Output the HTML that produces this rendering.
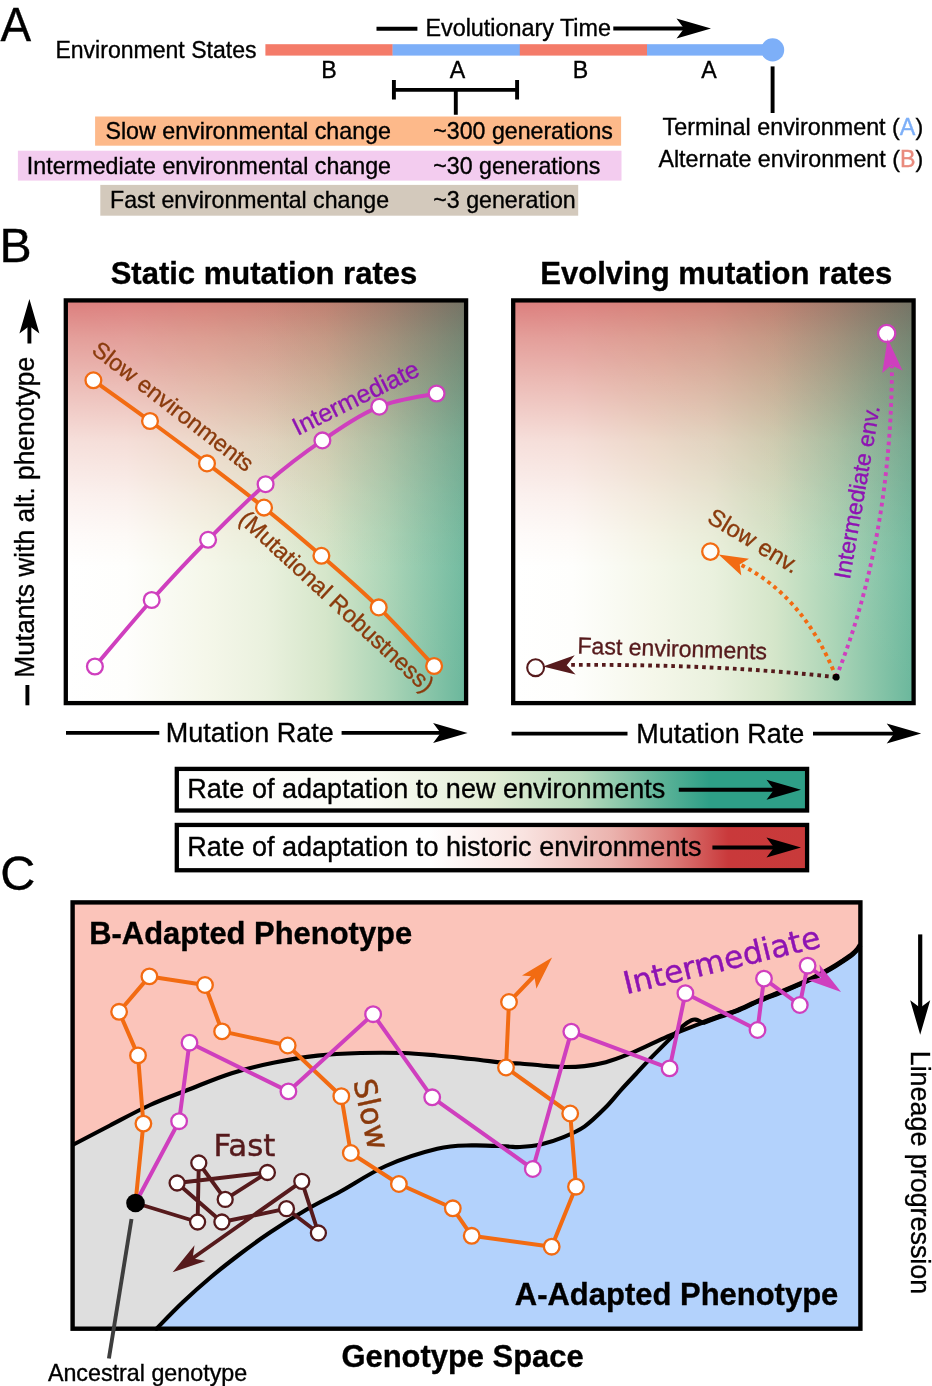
<!DOCTYPE html>
<html lang="en"><head><meta charset="utf-8"><title>Mutation rate evolution figure</title>
<style>
html,body{margin:0;padding:0;background:#fff;}
body{width:932px;height:1386px;overflow:hidden;}
svg{display:block;}
text{font-family:"Liberation Sans",Arial,Helvetica,sans-serif;fill:#000;stroke:#000;stroke-width:0.35;}
.tb{fill:#8A3A0C;stroke:#8A3A0C;}
.tp{fill:#8E13B3;stroke:#8E13B3;}
.tm{fill:#561A1C;stroke:#561A1C;}
.dj{font-family:"DejaVu Sans","Liberation Sans",sans-serif;stroke-width:0.45;}
.b{font-weight:700;}
.co{fill:#fff;stroke:#F26B12;stroke-width:2.3;}
.cm{fill:#fff;stroke:#CF3FBE;stroke-width:2.3;}
.cf{fill:#fff;stroke:#561A1C;stroke-width:2.3;}
.lo{fill:none;stroke:#F26B12;stroke-width:4;stroke-linejoin:round;stroke-linecap:round;}
.lm{fill:none;stroke:#CF3FBE;stroke-width:4;stroke-linejoin:round;stroke-linecap:round;}
.lf{fill:none;stroke:#561A1C;stroke-width:3.9;stroke-linejoin:round;stroke-linecap:round;}
.k{stroke:#000;stroke-width:3.9;fill:none;}
.dot{fill:none;stroke-width:3.9;stroke-dasharray:3.7 4;}
</style></head><body>
<svg width="932" height="1386" viewBox="0 0 932 1386">
<defs>
<linearGradient id="gG" x1="0" y1="0" x2="1" y2="0">
<stop offset="0" stop-color="#FFFFFF"/><stop offset="0.15" stop-color="#FEFEFC"/><stop offset="0.35" stop-color="#F5F7EA"/>
<stop offset="0.5" stop-color="#EAF1DE"/><stop offset="0.65" stop-color="#D5E6CA"/><stop offset="0.8" stop-color="#ACD5B7"/><stop offset="1" stop-color="#6AB79C"/>
</linearGradient>
<linearGradient id="gR" x1="0" y1="0" x2="0" y2="1">
<stop offset="0" stop-color="#DC7E7D"/><stop offset="0.09" stop-color="#E49E9A"/><stop offset="0.2" stop-color="#ECBBB6"/>
<stop offset="0.35" stop-color="#F6DFDB"/><stop offset="0.48" stop-color="#FBF0EE"/><stop offset="0.58" stop-color="#FEFAF9"/><stop offset="0.66" stop-color="#FFFFFF"/><stop offset="1" stop-color="#FFFFFF"/>
</linearGradient>
<linearGradient id="gW" x1="0.5" y1="0.5" x2="1" y2="0">
<stop offset="0" stop-color="#FFFAEB" stop-opacity="0"/><stop offset="1" stop-color="#FFFAEB" stop-opacity="0.15"/>
</linearGradient>
<linearGradient id="lG" x1="0" y1="0" x2="1" y2="0">
<stop offset="0" stop-color="#FFFFFF"/><stop offset="0.3" stop-color="#FBFCF6"/><stop offset="0.5" stop-color="#E2EDD5"/>
<stop offset="0.64" stop-color="#B9DBBD"/><stop offset="0.77" stop-color="#5DB398"/><stop offset="0.845" stop-color="#2E9F87"/><stop offset="1" stop-color="#2E9F87"/>
</linearGradient>
<linearGradient id="lR" x1="0" y1="0" x2="1" y2="0">
<stop offset="0" stop-color="#FFFFFF"/><stop offset="0.4" stop-color="#FFFFFF"/><stop offset="0.55" stop-color="#F9E3E0"/>
<stop offset="0.69" stop-color="#EBB3AE"/><stop offset="0.785" stop-color="#DC7C79"/><stop offset="0.875" stop-color="#C9393B"/><stop offset="1" stop-color="#C83A3A"/>
</linearGradient>
</defs>
<rect width="932" height="1386" fill="#fff"/>

<!-- Panel A -->
<text x="0.6" y="41.1" font-size="48" textLength="30.6" lengthAdjust="spacingAndGlyphs">A</text>
<text x="55.4" y="58" font-size="23.3" textLength="201.1" lengthAdjust="spacingAndGlyphs">Environment States</text>
<rect x="265.4" y="44.2" width="127.4" height="11.4" fill="#F47B69"/>
<rect x="392.6" y="44.2" width="127.4" height="11.4" fill="#7DAFF8"/>
<rect x="519.8" y="44.2" width="127.4" height="11.4" fill="#F47B69"/>
<rect x="647" y="44.2" width="126" height="11.4" fill="#7DAFF8"/>
<circle cx="772.6" cy="49.9" r="11.6" fill="#7DAFF8"/>
<path class="k" d="M376.5,28.8H417.4"/>
<text x="425.4" y="36" font-size="23" textLength="185.6" lengthAdjust="spacingAndGlyphs">Evolutionary Time</text>
<path class="k" d="M613.3,28.5H690"/>
<polygon fill="#000" points="711.0,28.5 676.5,18.5 684.0,28.5 676.5,38.5"/>
<text x="328.9" y="77.7" font-size="23.2" text-anchor="middle">B</text>
<text x="457.6" y="77.7" font-size="23.2" text-anchor="middle">A</text>
<text x="580.5" y="77.7" font-size="23.2" text-anchor="middle">B</text>
<text x="709" y="77.7" font-size="23.2" text-anchor="middle">A</text>
<path class="k" d="M393.9,80V99.6M517.1,80V99.6M393.9,89.9H517.1M455.8,89.9V114.8"/>
<path class="k" d="M772.6,66.4V113"/>
<rect x="95.1" y="116.5" width="526" height="29.2" fill="#FDB98A"/>
<rect x="17.9" y="150.7" width="603.6" height="29.9" fill="#F3CCEF"/>
<rect x="100.3" y="184.9" width="477.9" height="30.8" fill="#D3C9BC"/>
<text x="105.4" y="138.5" font-size="23.2" textLength="285.6" lengthAdjust="spacingAndGlyphs">Slow environmental change</text>
<text x="26.8" y="173.8" font-size="23.2" textLength="364.2" lengthAdjust="spacingAndGlyphs">Intermediate environmental change</text>
<text x="110" y="207.5" font-size="23.2" textLength="279" lengthAdjust="spacingAndGlyphs">Fast environmental change</text>
<text x="433.3" y="138.5" font-size="23.2" textLength="179.6" lengthAdjust="spacingAndGlyphs">~300 generations</text>
<text x="433.3" y="173.8" font-size="23.2">~30 generations</text>
<text x="433.3" y="207.5" font-size="23.2">~3 generation</text>
<text x="662.6" y="134.6" font-size="23.2" textLength="260.6" lengthAdjust="spacingAndGlyphs">Terminal environment (<tspan fill="#7DAFF8" stroke="#7DAFF8">A</tspan>)</text>
<text x="658.4" y="166.8" font-size="23.2" textLength="264.8" lengthAdjust="spacingAndGlyphs">Alternate environment (<tspan fill="#E98B7E" stroke="#E98B7E">B</tspan>)</text>
<!-- Panel B -->
<text x="-0.6" y="262.3" font-size="48.2">B</text>
<text class="b" x="110.7" y="283.8" font-size="31" textLength="306.5" lengthAdjust="spacingAndGlyphs">Static mutation rates</text>
<text class="b" x="540.2" y="283.8" font-size="31" textLength="352.2" lengthAdjust="spacingAndGlyphs">Evolving mutation rates</text>
<rect x="65.8" y="300.4" width="400.3" height="402.7" fill="url(#gG)"/>
<rect x="65.8" y="300.4" width="400.3" height="402.7" fill="url(#gR)" style="mix-blend-mode:multiply"/>
<rect x="65.8" y="300.4" width="400.3" height="402.7" fill="url(#gW)"/>
<rect x="65.8" y="300.4" width="400.3" height="402.7" fill="none" stroke="#000" stroke-width="4.3"/>
<rect x="513.2" y="300.4" width="400.4" height="402.7" fill="url(#gG)"/>
<rect x="513.2" y="300.4" width="400.4" height="402.7" fill="url(#gR)" style="mix-blend-mode:multiply"/>
<rect x="513.2" y="300.4" width="400.4" height="402.7" fill="url(#gW)"/>
<rect x="513.2" y="300.4" width="400.4" height="402.7" fill="none" stroke="#000" stroke-width="4.3"/>
<path class="k" d="M27.4,705.3V685"/>
<text transform="translate(34.4,677.8) rotate(-90)" font-size="27" textLength="321" lengthAdjust="spacingAndGlyphs">Mutants with alt. phenotype</text>
<path class="k" d="M29.4,343.5V322"/>
<polygon fill="#000" points="29.4,299.0 19.4,333.5 29.4,326.0 39.4,333.5"/>
<path class="k" d="M66,732.9H159.3M341.6,732.9H446"/>
<polygon fill="#000" points="467.6,732.9 433.1,722.9 440.6,732.9 433.1,742.9"/>
<text x="165.8" y="742" font-size="27" textLength="167.9" lengthAdjust="spacingAndGlyphs">Mutation Rate</text>
<path class="k" d="M511.6,733.6H627.5M813,733.6H900"/>
<polygon fill="#000" points="921.2,733.6 886.7,723.6 894.2,733.6 886.7,743.6"/>
<text x="636.3" y="742.6" font-size="27" textLength="168" lengthAdjust="spacingAndGlyphs">Mutation Rate</text>
<path class="lo" d="M93.4,380.3 C102.8,387.1 131.1,407.1 150.0,421.0 C168.9,434.9 188.0,449.0 207.0,463.4 C226.0,477.8 244.9,492.2 264.0,507.6 C283.1,523.0 302.3,539.2 321.4,555.8 C340.5,572.4 359.9,589.0 378.7,607.4 C397.5,625.8 424.9,656.2 434.1,666.0"/>
<path class="lm" d="M94.9,666.5 C104.4,655.4 132.8,621.1 151.7,600.0 C170.6,578.9 189.1,559.1 208.1,539.8 C227.1,520.5 246.6,500.8 265.6,484.2 C284.7,467.6 303.4,453.3 322.4,440.4 C341.3,427.5 360.3,414.5 379.3,406.7 C398.3,398.9 427.1,395.7 436.6,393.5"/>
<circle class="co" cx="93.4" cy="380.3" r="7.9"/>
<circle class="co" cx="150.0" cy="421.0" r="7.9"/>
<circle class="co" cx="207.0" cy="463.4" r="7.9"/>
<circle class="co" cx="264.0" cy="507.6" r="7.9"/>
<circle class="co" cx="321.4" cy="555.8" r="7.9"/>
<circle class="co" cx="378.7" cy="607.4" r="7.9"/>
<circle class="co" cx="434.1" cy="666.0" r="7.9"/>
<circle class="cm" cx="94.9" cy="666.5" r="7.9"/>
<circle class="cm" cx="151.7" cy="600.0" r="7.9"/>
<circle class="cm" cx="208.1" cy="539.8" r="7.9"/>
<circle class="cm" cx="265.6" cy="484.2" r="7.9"/>
<circle class="cm" cx="322.4" cy="440.4" r="7.9"/>
<circle class="cm" cx="379.3" cy="406.7" r="7.9"/>
<circle class="cm" cx="436.6" cy="393.5" r="7.9"/>
<text transform="translate(90.5,352.5) rotate(37.7)" font-size="23.2" class="tb" textLength="196.6" lengthAdjust="spacingAndGlyphs">Slow environments</text>
<text transform="translate(237.5,521) rotate(42.7)" font-size="23.5" class="tb" textLength="255" lengthAdjust="spacingAndGlyphs">(Mutational Robustness)</text>
<text transform="translate(297.5,436) rotate(-26.3)" font-size="25" class="tp" textLength="138" lengthAdjust="spacingAndGlyphs">Intermediate</text>
<path class="dot" stroke="#561A1C" d="M836.2,677.2 Q720,664 568,664.9"/>
<polygon fill="#561A1C" points="543,666.6 574.7,655.3 566.7,665.2 575.6,674.5"/>
<circle cx="535.6" cy="667.7" r="8.4" fill="none" stroke="#561A1C" stroke-width="2.1"/>
<path class="dot" stroke="#F26B12" d="M836.2,677.2 Q803.8,595.9 740,564.4"/>
<polygon fill="#F26B12" points="718.6,554.6 749,558.7 739.7,564.4 741.3,575.5"/>
<circle cx="710.4" cy="551.6" r="8.2" fill="#fff" fill-opacity="0.85" stroke="#F26B12" stroke-width="2.3"/>
<path class="dot" stroke="#CF3FBE" d="M836.2,677.2 Q891,540 892,366"/>
<polygon fill="#CF3FBE" points="887.7,338.8 882.2,373 891.2,365.2 902.5,370.4"/>
<circle cx="886.7" cy="333.4" r="8.6" fill="#fff" stroke="#CF3FBE" stroke-width="2.3"/>
<polygon fill="#CF3FBE" points="887.7,338.8 886.6,345 889.4,345"/>
<circle cx="836.2" cy="677.2" r="3.4" fill="#000"/>
<text transform="translate(577.3,653.5) rotate(1.8)" font-size="23.2" class="tm" textLength="189.6" lengthAdjust="spacingAndGlyphs">Fast environments</text>
<text transform="translate(706.1,521.4) rotate(31.2)" font-size="23.9" class="tb">Slow env.</text>
<text transform="translate(849.7,580) rotate(-80.1)" font-size="23.2" class="tp" textLength="175.6" lengthAdjust="spacingAndGlyphs">Intermediate env.</text>
<rect x="176.8" y="768.9" width="630.3" height="41.6" fill="url(#lG)" stroke="#000" stroke-width="4.3"/>
<rect x="176.8" y="824.95" width="630.3" height="45.3" fill="url(#lR)" stroke="#000" stroke-width="4.3"/>
<text x="187.3" y="798.1" font-size="27" textLength="478" lengthAdjust="spacingAndGlyphs">Rate of adaptation to new environments</text>
<text x="187.3" y="855.7" font-size="27" textLength="514.2" lengthAdjust="spacingAndGlyphs">Rate of adaptation to historic environments</text>
<path class="k" d="M678.8,789.7H780M712.4,847.5H780"/>
<polygon fill="#000" points="801.0,789.7 766.5,779.7 774.0,789.7 766.5,799.7"/>
<polygon fill="#000" points="801.0,847.5 766.5,837.5 774.0,847.5 766.5,857.5"/>
<!-- Panel C -->
<text x="0.2" y="889.9" font-size="48.5">C</text>
<rect x="72.6" y="902.4" width="787.8" height="426.3" fill="#B3D2FC"/>
<path d="M156.5,1328.7 C160.9,1324.2 173.9,1310.6 183.0,1302.0 C192.1,1293.4 201.5,1285.0 211.0,1277.0 C220.5,1269.0 230.1,1261.5 240.0,1254.0 C249.9,1246.5 259.5,1239.5 270.3,1232.3 C281.1,1225.0 293.4,1217.3 305.0,1210.5 C316.6,1203.7 326.5,1199.1 340.0,1191.7 C353.5,1184.3 369.6,1173.2 385.8,1166.0 C402.0,1158.8 423.0,1152.2 437.3,1148.8 C451.6,1145.4 460.2,1145.8 471.7,1145.4 C483.1,1145.0 497.9,1146.1 506.0,1146.4 C514.0,1146.7 514.1,1147.4 520.0,1147.0 C525.9,1146.6 534.4,1145.8 541.5,1144.2 C548.6,1142.6 555.8,1140.2 562.9,1137.3 C570.0,1134.4 577.2,1131.6 584.4,1126.6 C591.5,1121.6 599.7,1113.4 605.8,1107.3 C611.9,1101.2 615.9,1095.6 620.9,1090.1 C625.9,1084.5 631.2,1079.0 635.9,1074.0 C640.5,1069.0 643.1,1066.0 648.8,1060.1 C654.5,1054.2 664.5,1044.3 670.2,1038.6 C675.9,1032.9 679.5,1028.9 683.1,1025.8 C686.7,1022.7 689.6,1021.2 691.7,1020.2 C693.8,1019.2 694.4,1019.5 695.5,1019.6 C696.6,1019.7 697.4,1020.1 698.5,1020.6 C699.6,1021.1 701.8,1022.4 702.4,1022.8 L703.0,1022.6 L691.7,1026.8 L670.2,1035.4 L648.8,1045.1 L627.3,1054.7 L605.8,1062.2 L584.4,1066.1 L562.9,1067.0 L541.5,1065.5 L520.0,1063.5 L506.0,1063.0 L471.0,1059.0 L437.0,1055.5 L403.3,1053.0 L360.4,1053.0 L317.5,1055.6 L274.6,1062.5 L231.7,1073.2 L188.8,1089.5 L150.1,1105.0 L110.0,1125.5 L72.6,1145.0 L72.6,1328.7 Z" fill="#DEDEDE"/>
<path d="M72.6,1145.0 C78.8,1141.8 97.1,1132.2 110.0,1125.5 C122.9,1118.8 137.0,1111.0 150.1,1105.0 C163.2,1099.0 175.2,1094.8 188.8,1089.5 C202.4,1084.2 217.4,1077.7 231.7,1073.2 C246.0,1068.7 260.3,1065.4 274.6,1062.5 C288.9,1059.6 303.2,1057.2 317.5,1055.6 C331.8,1054.0 346.1,1053.4 360.4,1053.0 C374.7,1052.6 390.5,1052.6 403.3,1053.0 C416.1,1053.4 425.7,1054.5 437.0,1055.5 C448.3,1056.5 459.5,1057.8 471.0,1059.0 C482.5,1060.2 497.8,1062.2 506.0,1063.0 C514.2,1063.8 514.1,1063.1 520.0,1063.5 C525.9,1063.9 534.4,1064.9 541.5,1065.5 C548.6,1066.1 555.8,1066.9 562.9,1067.0 C570.0,1067.1 577.2,1066.9 584.4,1066.1 C591.5,1065.3 598.6,1064.1 605.8,1062.2 C612.9,1060.3 620.1,1057.6 627.3,1054.7 C634.5,1051.8 641.6,1048.3 648.8,1045.1 C655.9,1041.9 663.1,1038.5 670.2,1035.4 C677.4,1032.4 686.2,1028.9 691.7,1026.8 C697.2,1024.7 698.3,1024.3 703.0,1022.6 C707.7,1020.9 714.3,1018.3 720.0,1016.3 C725.7,1014.3 730.6,1013.2 737.3,1010.5 C744.0,1007.8 751.9,1003.7 760.0,1000.3 C768.1,996.9 777.1,993.7 785.7,990.1 C794.3,986.5 804.0,982.4 811.5,978.8 C819.0,975.2 825.4,971.6 830.8,968.5 C836.2,965.4 840.1,962.7 843.7,960.3 C847.4,957.9 850.3,956.0 852.7,954.0 C855.1,952.0 856.8,950.0 858.0,948.5 C859.2,947.0 859.8,945.6 860.2,945.0 L860.4,902.4 L72.6,902.4 Z" fill="#FBC4BA"/>
<path d="M72.6,1145.0 C78.8,1141.8 97.1,1132.2 110.0,1125.5 C122.9,1118.8 137.0,1111.0 150.1,1105.0 C163.2,1099.0 175.2,1094.8 188.8,1089.5 C202.4,1084.2 217.4,1077.7 231.7,1073.2 C246.0,1068.7 260.3,1065.4 274.6,1062.5 C288.9,1059.6 303.2,1057.2 317.5,1055.6 C331.8,1054.0 346.1,1053.4 360.4,1053.0 C374.7,1052.6 390.5,1052.6 403.3,1053.0 C416.1,1053.4 425.7,1054.5 437.0,1055.5 C448.3,1056.5 459.5,1057.8 471.0,1059.0 C482.5,1060.2 497.8,1062.2 506.0,1063.0 C514.2,1063.8 514.1,1063.1 520.0,1063.5 C525.9,1063.9 534.4,1064.9 541.5,1065.5 C548.6,1066.1 555.8,1066.9 562.9,1067.0 C570.0,1067.1 577.2,1066.9 584.4,1066.1 C591.5,1065.3 598.6,1064.1 605.8,1062.2 C612.9,1060.3 620.1,1057.6 627.3,1054.7 C634.5,1051.8 641.6,1048.3 648.8,1045.1 C655.9,1041.9 663.1,1038.5 670.2,1035.4 C677.4,1032.4 686.2,1028.9 691.7,1026.8 C697.2,1024.7 698.3,1024.3 703.0,1022.6 C707.7,1020.9 714.3,1018.3 720.0,1016.3 C725.7,1014.3 730.6,1013.2 737.3,1010.5 C744.0,1007.8 751.9,1003.7 760.0,1000.3 C768.1,996.9 777.1,993.7 785.7,990.1 C794.3,986.5 804.0,982.4 811.5,978.8 C819.0,975.2 825.4,971.6 830.8,968.5 C836.2,965.4 840.1,962.7 843.7,960.3 C847.4,957.9 850.3,956.0 852.7,954.0 C855.1,952.0 856.8,950.0 858.0,948.5 C859.2,947.0 859.8,945.6 860.2,945.0" fill="none" stroke="#000" stroke-width="4.1"/>
<path d="M156.5,1328.7 C160.9,1324.2 173.9,1310.6 183.0,1302.0 C192.1,1293.4 201.5,1285.0 211.0,1277.0 C220.5,1269.0 230.1,1261.5 240.0,1254.0 C249.9,1246.5 259.5,1239.5 270.3,1232.3 C281.1,1225.0 293.4,1217.3 305.0,1210.5 C316.6,1203.7 326.5,1199.1 340.0,1191.7 C353.5,1184.3 369.6,1173.2 385.8,1166.0 C402.0,1158.8 423.0,1152.2 437.3,1148.8 C451.6,1145.4 460.2,1145.8 471.7,1145.4 C483.1,1145.0 497.9,1146.1 506.0,1146.4 C514.0,1146.7 514.1,1147.4 520.0,1147.0 C525.9,1146.6 534.4,1145.8 541.5,1144.2 C548.6,1142.6 555.8,1140.2 562.9,1137.3 C570.0,1134.4 577.2,1131.6 584.4,1126.6 C591.5,1121.6 599.7,1113.4 605.8,1107.3 C611.9,1101.2 615.9,1095.6 620.9,1090.1 C625.9,1084.5 631.2,1079.0 635.9,1074.0 C640.5,1069.0 643.1,1066.0 648.8,1060.1 C654.5,1054.2 664.5,1044.3 670.2,1038.6 C675.9,1032.9 679.5,1028.9 683.1,1025.8 C686.7,1022.7 689.6,1021.2 691.7,1020.2 C693.8,1019.2 694.4,1019.5 695.5,1019.6 C696.6,1019.7 697.4,1020.1 698.5,1020.6 C699.6,1021.1 701.8,1022.4 702.4,1022.8" fill="none" stroke="#000" stroke-width="4.1" stroke-linecap="round"/>
<path d="M703.0,1022.6 C705.8,1021.5 714.3,1018.3 720.0,1016.3 C725.7,1014.3 730.6,1013.2 737.3,1010.5 C744.0,1007.8 751.9,1003.7 760.0,1000.3 C768.1,996.9 777.1,993.7 785.7,990.1 C794.3,986.5 804.0,982.4 811.5,978.8 C819.0,975.2 825.4,971.6 830.8,968.5 C836.2,965.4 840.1,962.7 843.7,960.3 C847.4,957.9 850.3,956.0 852.7,954.0 C855.1,952.0 856.8,950.0 858.0,948.5 C859.2,947.0 859.8,945.6 860.2,945.0" fill="none" stroke="#000" stroke-width="5"/>
<rect x="72.6" y="902.4" width="787.8" height="426.3" fill="none" stroke="#000" stroke-width="4.4"/>
<text class="b" x="89.2" y="944" font-size="31" textLength="323" lengthAdjust="spacingAndGlyphs">B-Adapted Phenotype</text>
<text class="b" x="514.8" y="1305.3" font-size="31" textLength="323.5" lengthAdjust="spacingAndGlyphs">A-Adapted Phenotype</text>
<text class="b" x="341.5" y="1367" font-size="31" textLength="242.1" lengthAdjust="spacingAndGlyphs">Genotype Space</text>
<text x="47.9" y="1380.5" font-size="23.2" textLength="199.3" lengthAdjust="spacingAndGlyphs">Ancestral genotype</text>
<path d="M131.5,1219L108.9,1358.5" stroke="#3E3E3E" stroke-width="3.9" fill="none"/>
<path class="k" style="stroke-width:4.2" d="M920.2,934.4V1012"/>
<polygon fill="#000" points="920.2,1034.8 930.2,1000.3 920.2,1007.8 910.2,1000.3"/>
<text transform="translate(910.9,1050.7) rotate(90)" font-size="27" textLength="243.5" lengthAdjust="spacingAndGlyphs">Lineage progression</text>
<path class="lf" d="M135.5,1203.0 L197.6,1222.0 L198.8,1163.0 L225.2,1199.4 L267.4,1172.5 L177.1,1183.0 L221.9,1222.0 L286.5,1208.7 L318.4,1233.0 L301.8,1181.3 L193.0,1258.0"/>
<polygon fill="#561A1C" points="172.6,1272.3 205.5,1260.9 192.6,1258.2 194.5,1245.2"/>
<path class="lo" d="M135.5,1203.0 L143.4,1123.6 L138.0,1055.4 L119.1,1011.8 L149.4,976.4 L205.0,985.0 L222.1,1031.4 L287.7,1045.5 L341.3,1096.2 L350.8,1153.0 L398.9,1184.0 L452.8,1208.3 L471.7,1235.8 L551.7,1246.7 L576.0,1186.7 L570.2,1113.5 L506.0,1067.5 L509.0,1002.0 L535.0,975.0"/>
<polygon fill="#F26B12" points="552.1,957.4 522.0,975.5 534.4,976.5 536.4,988.8"/>
<path class="lm" d="M135.5,1203.0 L179.1,1121.2 L189.5,1042.7 L288.4,1091.4 L373.1,1014.2 L432.2,1097.3 L532.8,1169.0 L571.3,1031.6 L669.6,1068.4 L685.4,993.2 L757.5,1030.0 L764.0,978.6 L799.8,1005.0 L807.6,965.7 L820.0,975.0"/>
<polygon fill="#CF3FBE" points="841.1,992.1 819.4,964.5 821.1,977.7 808.1,980.3"/>
<circle class="cf" cx="197.6" cy="1222.0" r="7.5"/>
<circle class="cf" cx="198.8" cy="1163.0" r="7.5"/>
<circle class="cf" cx="225.2" cy="1199.4" r="7.5"/>
<circle class="cf" cx="267.4" cy="1172.5" r="7.5"/>
<circle class="cf" cx="177.1" cy="1183.0" r="7.5"/>
<circle class="cf" cx="221.9" cy="1222.0" r="7.5"/>
<circle class="cf" cx="286.5" cy="1208.7" r="7.5"/>
<circle class="cf" cx="318.4" cy="1233.0" r="7.5"/>
<circle class="cf" cx="301.8" cy="1181.3" r="7.5"/>
<circle class="co" cx="143.4" cy="1123.6" r="7.8"/>
<circle class="co" cx="138.0" cy="1055.4" r="7.8"/>
<circle class="co" cx="119.1" cy="1011.8" r="7.8"/>
<circle class="co" cx="149.4" cy="976.4" r="7.8"/>
<circle class="co" cx="205.0" cy="985.0" r="7.8"/>
<circle class="co" cx="222.1" cy="1031.4" r="7.8"/>
<circle class="co" cx="287.7" cy="1045.5" r="7.8"/>
<circle class="co" cx="341.3" cy="1096.2" r="7.8"/>
<circle class="co" cx="350.8" cy="1153.0" r="7.8"/>
<circle class="co" cx="398.9" cy="1184.0" r="7.8"/>
<circle class="co" cx="452.8" cy="1208.3" r="7.8"/>
<circle class="co" cx="471.7" cy="1235.8" r="7.8"/>
<circle class="co" cx="551.7" cy="1246.7" r="7.8"/>
<circle class="co" cx="576.0" cy="1186.7" r="7.8"/>
<circle class="co" cx="570.2" cy="1113.5" r="7.8"/>
<circle class="co" cx="506.0" cy="1067.5" r="7.8"/>
<circle class="co" cx="509.0" cy="1002.0" r="7.8"/>
<circle class="cm" cx="179.1" cy="1121.2" r="7.8"/>
<circle class="cm" cx="189.5" cy="1042.7" r="7.8"/>
<circle class="cm" cx="288.4" cy="1091.4" r="7.8"/>
<circle class="cm" cx="373.1" cy="1014.2" r="7.8"/>
<circle class="cm" cx="432.2" cy="1097.3" r="7.8"/>
<circle class="cm" cx="532.8" cy="1169.0" r="7.8"/>
<circle class="cm" cx="571.3" cy="1031.6" r="7.8"/>
<circle class="cm" cx="669.6" cy="1068.4" r="7.8"/>
<circle class="cm" cx="685.4" cy="993.2" r="7.8"/>
<circle class="cm" cx="757.5" cy="1030.0" r="7.8"/>
<circle class="cm" cx="764.0" cy="978.6" r="7.8"/>
<circle class="cm" cx="799.8" cy="1005.0" r="7.8"/>
<circle class="cm" cx="807.6" cy="965.7" r="7.8"/>
<circle cx="135.5" cy="1203" r="9.3" fill="#000"/>
<text x="213.4" y="1155.5" font-size="30" class="dj tm" textLength="62" lengthAdjust="spacingAndGlyphs">Fast</text>
<text class="dj tb" transform="translate(353.2,1081.6) rotate(77.6)" font-size="30.6" textLength="71.5" lengthAdjust="spacingAndGlyphs">Slow</text>
<text class="dj tp" transform="translate(626.3,994.3) rotate(-13.6)" font-size="31" textLength="201.5" lengthAdjust="spacingAndGlyphs">Intermediate</text>
</svg>
</body></html>
